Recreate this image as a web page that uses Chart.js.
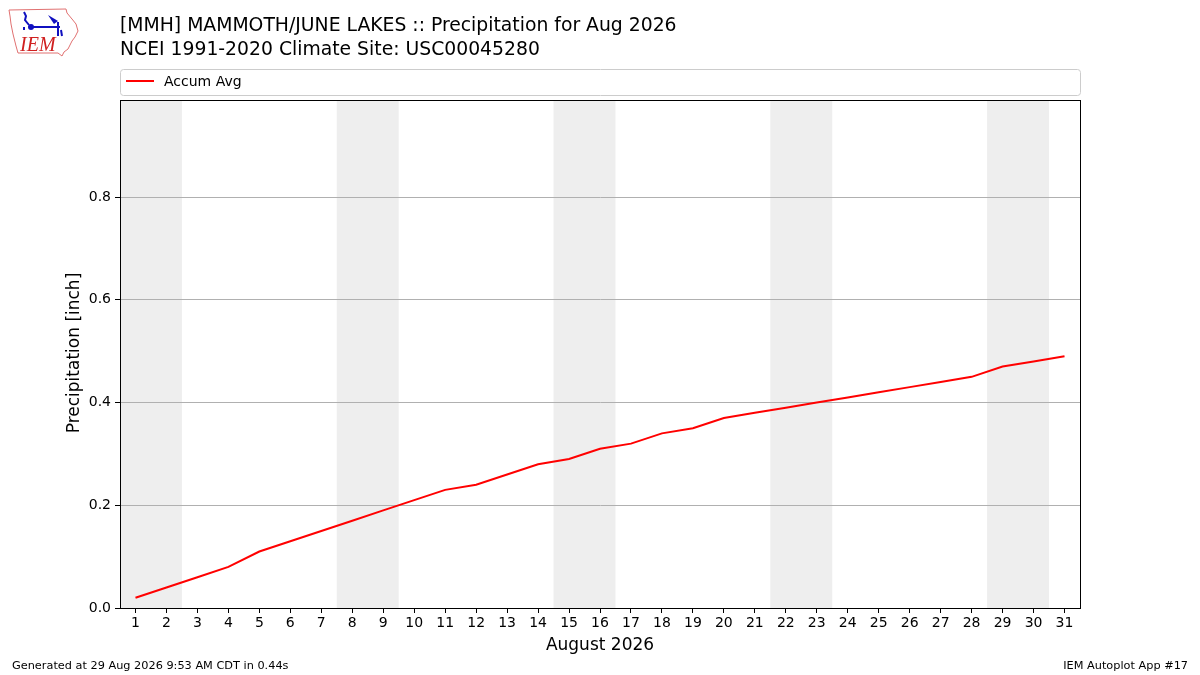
<!DOCTYPE html>
<html>
<head>
<meta charset="utf-8">
<script src="https://cdn.jsdelivr.net/npm/chart.js@4.4.1/dist/chart.umd.min.js"></script>
<style>
  html, body { margin: 0; padding: 0; background: #fff; }
  #wrap { position: relative; width: 1200px; height: 675px; }
</style>
</head>
<body>
<div id="wrap"><canvas id="chart" width="1200" height="675"></canvas></div>
<script>
const days = [1, 2, 3, 4, 5, 6, 7, 8, 9, 10, 11, 12, 13, 14, 15, 16, 17, 18, 19, 20, 21, 22, 23, 24, 25, 26, 27, 28, 29, 30, 31];
const accumAvg = [0.02, 0.04, 0.06, 0.08, 0.11, 0.13, 0.15, 0.17, 0.19, 0.21, 0.23, 0.24, 0.26, 0.28, 0.29, 0.31,
  0.32, 0.34, 0.35, 0.37, 0.38, 0.39, 0.40, 0.41, 0.42, 0.43, 0.44, 0.45, 0.47, 0.48, 0.49];
const weekendStarts = [1, 8, 15, 22, 29];
const yTicks = [0, 0.2, 0.4, 0.6, 0.8];

const titleLines = [
  "[MMH] MAMMOTH/JUNE LAKES :: Precipitation for Aug 2026",
  "NCEI 1991-2020 Climate Site: USC00045280"
];
const FONT = "'DejaVu Sans', sans-serif";

// grey bands for weekends, under the grid
const weekendBands = {
  id: "weekendBands",
  beforeDraw(chart) {
    const { ctx, chartArea, scales } = chart;
    ctx.save();
    ctx.fillStyle = "#eeeeee";
    weekendStarts.forEach((d) => {
      const x1 = scales.x.getPixelForValue(d - 0.5);
      const x2 = scales.x.getPixelForValue(d + 1.5);
      ctx.fillRect(x1, chartArea.top, x2 - x1, chartArea.bottom - chartArea.top);
    });
    ctx.restore();
  }
};

function drawLogo(ctx) {
  ctx.save();
  ctx.strokeStyle = "#e07070";
  ctx.lineWidth = 1;
  ctx.beginPath();
  const pts = [[9, 10], [66, 9], [67, 13], [72, 19], [76, 24], [78, 31], [75, 37], [72, 41], [70, 45],
    [68, 49], [64, 52], [62, 56], [58, 53], [18, 53], [16, 46], [13, 34], [11, 24], [10, 16]];
  pts.forEach((p, i) => (i ? ctx.lineTo(p[0], p[1]) : ctx.moveTo(p[0], p[1])));
  ctx.closePath();
  ctx.stroke();
  ctx.strokeStyle = "#1010c0";
  ctx.fillStyle = "#1010c0";
  ctx.lineWidth = 2;
  ctx.beginPath();
  ctx.moveTo(31, 27); ctx.lineTo(60, 27);
  ctx.moveTo(29, 25); ctx.lineTo(25, 20); ctx.lineTo(26, 16); ctx.lineTo(24, 12);
  ctx.moveTo(58, 22); ctx.lineTo(58, 36);
  ctx.moveTo(61, 30); ctx.lineTo(62, 36);
  ctx.stroke();
  ctx.beginPath(); ctx.arc(31, 27, 3, 0, Math.PI * 2); ctx.fill();
  ctx.beginPath(); ctx.moveTo(48, 15); ctx.lineTo(58, 21); ctx.lineTo(54, 24); ctx.closePath(); ctx.fill();
  ctx.fillRect(23, 27, 2, 3);
  ctx.fillStyle = "#d02020";
  ctx.font = "italic 20px 'Liberation Serif', serif";
  ctx.fillText("IEM", 20, 51);
  ctx.restore();
}

const decorations = {
  id: "decorations",
  afterDraw(chart) {
    const { ctx, chartArea } = chart;
    ctx.save();
    // frame
    ctx.strokeStyle = "#000";
    ctx.lineWidth = 1;
    ctx.strokeRect(chartArea.left + 0.5, chartArea.top + 0.5,
      chartArea.right - chartArea.left, chartArea.bottom - chartArea.top);

    // titles
    ctx.fillStyle = "#000";
    ctx.textBaseline = "alphabetic";
    ctx.font = "18.8px " + FONT;
    ctx.fillText(titleLines[0], 120, 31);
    ctx.fillText(titleLines[1], 120, 55);

    // legend box
    ctx.strokeStyle = "#cccccc";
    ctx.lineWidth = 1;
    ctx.beginPath();
    ctx.roundRect(120.5, 69.5, 960, 26, 3);
    ctx.stroke();
    ctx.strokeStyle = "#ff0000";
    ctx.lineWidth = 2;
    ctx.beginPath();
    ctx.moveTo(126, 81); ctx.lineTo(154, 81);
    ctx.stroke();
    ctx.font = "14px " + FONT;
    ctx.fillText("Accum Avg", 164, 86);

    // axis titles
    ctx.font = "17px " + FONT;
    ctx.textAlign = "center";
    ctx.fillText("August 2026", 600, 650);
    ctx.save();
    ctx.translate(79, 353);
    ctx.rotate(-Math.PI / 2);
    ctx.fillText("Precipitation [inch]", 0, 0);
    ctx.restore();

    // footer
    ctx.font = "11.3px " + FONT;
    ctx.textAlign = "left";
    ctx.fillText("Generated at 29 Aug 2026 9:53 AM CDT in 0.44s", 12, 669);
    ctx.textAlign = "right";
    ctx.fillText("IEM Autoplot App #17", 1188, 669);
    ctx.restore();

    drawLogo(ctx);
  }
};

new Chart(document.getElementById("chart").getContext("2d"), {
  type: "line",
  data: {
    datasets: [{
      label: "Accum Avg",
      data: days.map((d, i) => ({ x: d, y: accumAvg[i] })),
      borderColor: "#ff0000",
      borderWidth: 2,
      pointRadius: 0,
      tension: 0,
      fill: false
    }]
  },
  options: {
    responsive: false,
    animation: false,
    devicePixelRatio: 1,
    layout: { padding: { top: 100, right: 120, left: 0, bottom: 0 } },
    plugins: {
      legend: { display: false },
      title: { display: false },
      tooltip: { enabled: false }
    },
    scales: {
      x: {
        type: "linear",
        min: 0.5,
        max: 31.5,
        afterBuildTicks: (axis) => { axis.ticks = days.map((d) => ({ value: d })); },
        afterFit: (axis) => { axis.height = 67; },
        grid: { drawOnChartArea: false, tickColor: "#000", tickLength: 5 },
        border: { color: "#000" },
        ticks: {
          color: "#000",
          font: { family: FONT, size: 14 },
          padding: 2,
          maxRotation: 0,
          autoSkip: false,
          callback: (v) => String(v)
        }
      },
      y: {
        min: 0,
        max: 0.989,
        afterBuildTicks: (axis) => { axis.ticks = yTicks.map((v) => ({ value: v })); },
        afterFit: (axis) => { axis.width = 120; },
        grid: { color: "#b0b0b0", tickColor: "#000", tickLength: 5 },
        border: { color: "#000" },
        ticks: {
          color: "#000",
          font: { family: FONT, size: 14 },
          padding: 4,
          callback: (v) => v.toFixed(1)
        }
      }
    }
  },
  plugins: [weekendBands, decorations]
});
</script>
</body>
</html>
